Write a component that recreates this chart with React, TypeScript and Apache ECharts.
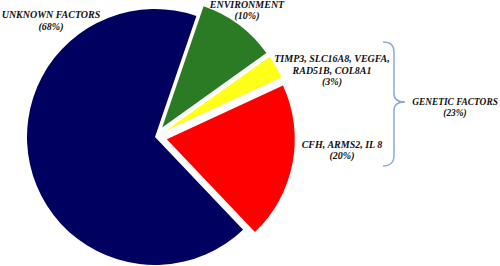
import React, { useEffect, useRef } from "react";
import * as echarts from "echarts";

// ---- data ----
const categories = [
  "UNKNOWN FACTORS",
  "ENVIRONMENT",
  "TIMP3, SLC16A8, VEGFA,\nRAD51B, COL8A1",
  "CFH, ARMS2, IL 8",
];
const values = [68, 10, 3, 20];
const exploded = [false, true, true, true];
const geneticIndices = [2, 3];
const groupLabel = "GENETIC FACTORS";

// ---- styles ----
const colors = ["#000060", "#2a7b24", "#ffff1a", "#ff0000"];
const labelCenters: [number, number][] = [
  [51, 20.5],
  [247, 10],
  [332, 70],
  [342, 150],
];
const FONT_FAMILY = '"Liberation Serif", "Times New Roman", serif';

const BRACE_D =
  "M383,42 C390,42 394,45 394,52 L394,94 C394,99 398,102 405,102 C398,102 394,105 394,110 L394,156 C394,162 390,166 383,166";

let registered = false;

export default function App() {
  const ref = useRef<HTMLDivElement>(null);
  useEffect(() => {
    document.body.style.margin = "0";
    if (!registered) {
      echarts.graphic.registerShape("brace", echarts.graphic.extendPath(BRACE_D, {}) as any);
      registered = true;
    }
    const chart = echarts.init(ref.current!, undefined, { renderer: "svg" });
    const geneticTotal = geneticIndices.reduce((s, i) => s + values[i], 0);
    const textStyle = (text: string, size: number) => ({
      text,
      align: "center",
      verticalAlign: "middle",
      fill: "#111",
      fontFamily: FONT_FAMILY,
      fontSize: size,
      fontWeight: "bold",
      fontStyle: "italic",
      lineHeight: 11.5,
    });
    const sliceLabels = categories.map((name, i) => ({
      type: "text",
      x: labelCenters[i][0],
      y: labelCenters[i][1],
      style: textStyle(`${name}\n(${values[i]}%)`, 10),
    }));
    chart.setOption({
      animation: false,
      backgroundColor: "#ffffff",
      series: [
        {
          type: "pie",
          center: [155, 137],
          radius: [0, 128],
          startAngle: -46.5,
          clockwise: true,
          selectedMode: "multiple",
          selectedOffset: 12,
          avoidLabelOverlap: false,
          emphasis: { disabled: true },
          label: { show: false },
          labelLine: { show: false },
          itemStyle: { borderWidth: 0 },
          data: categories.map((name, i) => ({
            name,
            value: values[i],
            selected: exploded[i],
            itemStyle: { color: colors[i] },
          })),
        },
      ],
      graphic: [
        {
          type: "brace",
          x: 0,
          y: 0,
          style: { stroke: "#8eaad6", fill: "none", lineWidth: 1.5 },
        },
        ...sliceLabels,
        {
          type: "text",
          x: 455,
          y: 107.5,
          style: textStyle(`${groupLabel}\n(${geneticTotal}%)`, 9.4),
        },
      ],
    });
    return () => chart.dispose();
  }, []);
  return <div ref={ref} style={{ width: 500, height: 266 }} />;
}
